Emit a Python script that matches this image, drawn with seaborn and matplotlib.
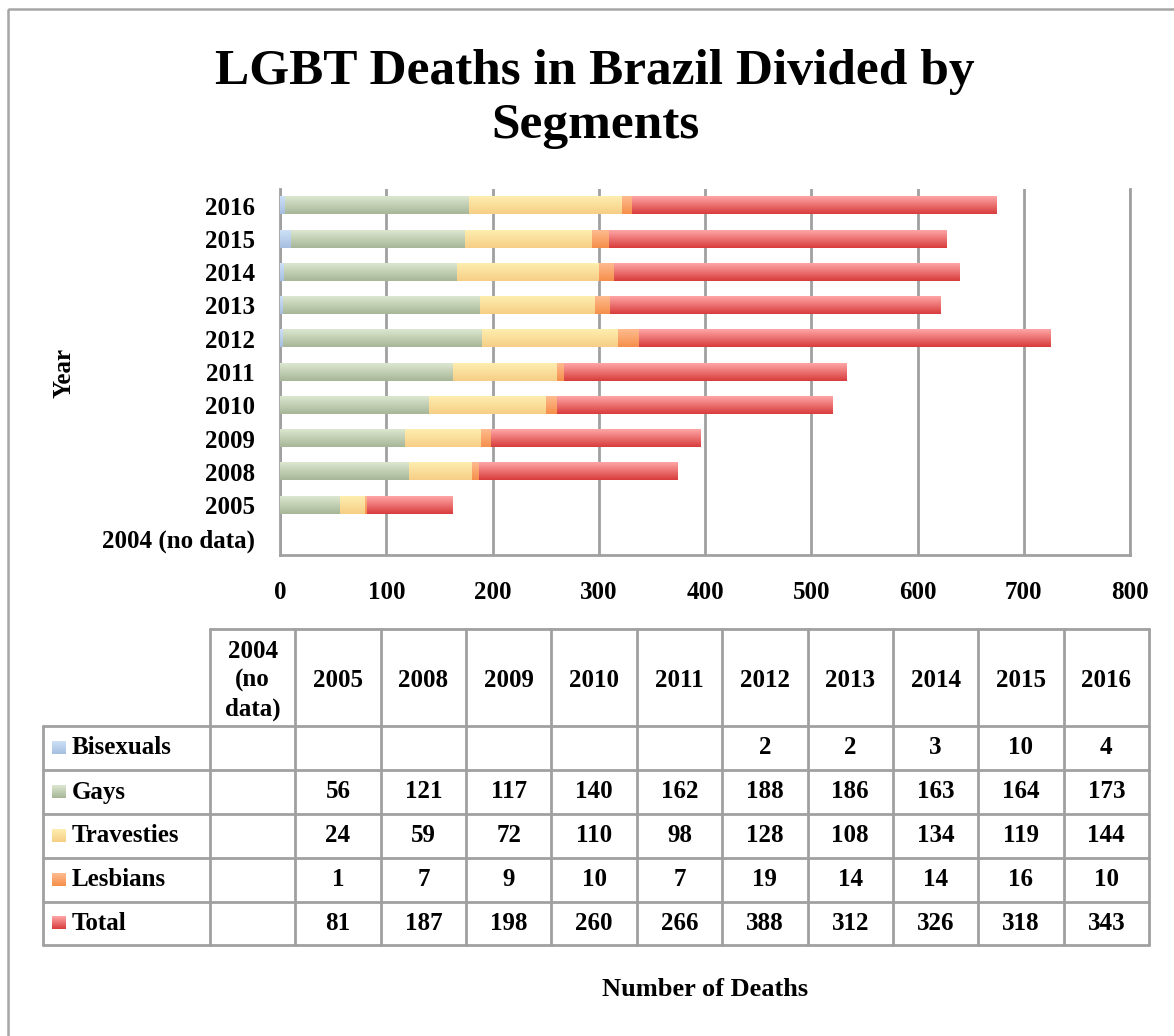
import numpy as np
import pandas as pd
import seaborn as sns
import matplotlib.pyplot as plt
from matplotlib.colors import LinearSegmentedColormap
from matplotlib.patches import Rectangle

years = ['2004 (no data)', '2005', '2008', '2009', '2010', '2011',
         '2012', '2013', '2014', '2015', '2016']
bisexuals = [np.nan, np.nan, np.nan, np.nan, np.nan, np.nan, 2, 2, 3, 10, 4]
gays = [np.nan, 56, 121, 117, 140, 162, 188, 186, 163, 164, 173]
travesties = [np.nan, 24, 59, 72, 110, 98, 128, 108, 134, 119, 144]
lesbians = [np.nan, 1, 7, 9, 10, 7, 19, 14, 14, 16, 10]
total = [np.nan, 81, 187, 198, 260, 266, 388, 312, 326, 318, 343]

segments = ['Bisexuals', 'Gays', 'Travesties', 'Lesbians', 'Total']
# (top, bottom) of the vertical gradient in each bar
grad_colors = {
    'Bisexuals': ('#cde0f6', '#a6bfe0'),
    'Gays': ('#dbe7d0', '#a7b697'),
    'Travesties': ('#feeeb0', '#f6ce85'),
    'Lesbians': ('#ffbb90', '#f58f4a'),
    'Total': ('#ffa6a6', '#d83c3c'),
}

df = pd.DataFrame({'Year': years, 'Bisexuals': bisexuals, 'Gays': gays,
                   'Travesties': travesties, 'Lesbians': lesbians,
                   'Total': total})
order = years[::-1]

sns.set_style('white')
plt.rcParams['font.family'] = ['Liberation Serif', 'DejaVu Serif']
plt.rcParams['font.weight'] = 'bold'
for k in ['text.color', 'axes.labelcolor', 'xtick.color', 'ytick.color']:
    plt.rcParams[k] = 'black'

W, H = 1174, 1036
fig = plt.figure(figsize=(W / 100, H / 100), dpi=100)
ax = fig.add_axes([280 / W, 1 - 555 / H, 850 / W, 366 / H])

cum = df[segments].fillna(0).cumsum(axis=1)


def gradient(ax, x0, x1, ytop, ybot, c_top, c_bot, z):
    cmap = LinearSegmentedColormap.from_list('g', [c_top, c_bot])
    arr = np.linspace(0, 1, 64).reshape(-1, 1)
    ax.imshow(arr, cmap=cmap, extent=[x0, x1, ybot, ytop], aspect='auto',
              origin='upper', zorder=z, interpolation='bilinear')


# stacked bars drawn as overlaid cumulative bars, the outer one first
for z, seg in enumerate(segments[::-1]):
    n_before = len(ax.patches)
    d = pd.DataFrame({'Year': years, 'v': cum[seg]})
    sns.barplot(data=d, x='v', y='Year', order=order, orient='h',
                width=0.52, color=grad_colors[seg][1], ax=ax)
    for p in ax.patches[n_before:]:
        p.set_visible(False)
        if p.get_width() <= 0:
            continue
        x0, y0 = p.get_x(), p.get_y()
        gradient(ax, x0, x0 + p.get_width(), y0, y0 + p.get_height(),
                 grad_colors[seg][0], grad_colors[seg][1], 3 + z)

grid_c = '#a0a0a0'
ax.set_xlim(0, 800)
ax.set_ylim(10.5, -0.5)
ax.set_xticks(range(0, 801, 100))
ax.xaxis.grid(True, color=grid_c, lw=2)
ax.yaxis.grid(False)
ax.set_axisbelow(True)
ax.spines['top'].set_visible(False)
for s in ['left', 'bottom', 'right']:
    ax.spines[s].set_color(grid_c)
    ax.spines[s].set_linewidth(2)
ax.tick_params(axis='x', length=0, pad=19, labelsize=18)
ax.tick_params(axis='y', length=0, pad=18, labelsize=18)
ax.set_xlabel('')
ax.set_ylabel('')

# overlay in pixel coordinates for title, table and frame
ov = fig.add_axes([0, 0, 1, 1])
ov.patch.set_visible(False)
ov.axis('off')

ov.add_patch(Rectangle((8, 9), 1300, 1200, fill=False, ec='#a6a6a6', lw=1.8))

ov.text(595, 99, 'LGBT Deaths in Brazil Divided by\nSegments', ha='center',
        va='center', fontsize=37, fontweight='bold', linespacing=1.25)
ov.text(64, 373, 'Year', rotation=90, ha='center', va='center',
        fontsize=18, fontweight='bold')
ov.text(705, 990, 'Number of Deaths', ha='center', va='center',
        fontsize=19, fontweight='bold')

# data table
col_l = 210
col_w = (1149 - 210) / len(years)
row_y = [726, 770, 814, 858, 902, 945]
top_y = 629
lab_l = 43
lw = 2

ov.plot([col_l, col_l + col_w * len(years)], [top_y, top_y], color=grid_c, lw=lw)
for y in row_y:
    ov.plot([lab_l, col_l + col_w * len(years)], [y, y], color=grid_c, lw=lw)
ov.plot([lab_l, lab_l], [row_y[0], row_y[-1]], color=grid_c, lw=lw)
for k in range(len(years) + 1):
    x = col_l + k * col_w
    ov.plot([x, x], [top_y, row_y[-1]], color=grid_c, lw=lw)

for k, yr in enumerate(years):
    cx = col_l + (k + 0.5) * col_w
    label = yr.replace(' ', '\n')
    ov.text(cx, (top_y + row_y[0]) / 2 + 3, label, ha='center', va='center',
            fontsize=18, fontweight='bold', linespacing=1.3)

for r, seg in enumerate(segments):
    cy = (row_y[r] + row_y[r + 1]) / 2
    gradient(ov, 52, 66, cy - 7, cy + 6, grad_colors[seg][0],
             grad_colors[seg][1], 3)
    ov.text(72, cy, seg, ha='left', va='center', fontsize=18,
            fontweight='bold')
    for k, v in enumerate(df[seg]):
        if pd.isna(v):
            continue
        cx = col_l + (k + 0.5) * col_w
        ov.text(cx, cy, f'{int(v)}', ha='center', va='center', fontsize=18,
                fontweight='bold')

ov.set_xlim(0, W)
ov.set_ylim(H, 0)

fig.savefig('out.png', dpi=100)
